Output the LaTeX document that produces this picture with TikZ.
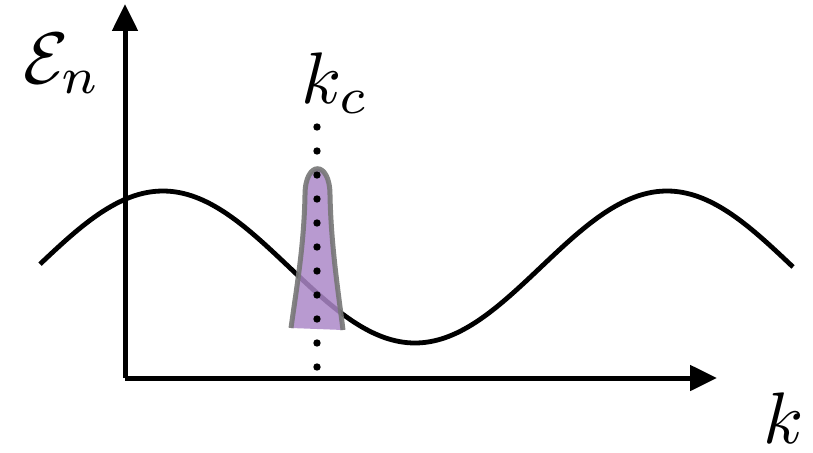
\documentclass[tikz,border=0pt]{standalone}
\usetikzlibrary{arrows.meta}
\definecolor{blobfill}{RGB}{172,136,200}
\definecolor{blobline}{RGB}{118,118,118}
\tikzset{
  axis/.style={line width=5pt,-{Triangle[length=27pt,width=25pt]}},
  curve/.style={line width=4.8pt},
  lbl/.style={inner sep=0pt,anchor=base west,scale=7.3},
  dotmark/.style={fill=black,draw=none},
}
\begin{document}
\begin{tikzpicture}[x=1pt,y=-1pt]
\useasboundingbox (0,0) rectangle (813,452);
\coordinate (O) at (125,378);
\coordinate (ytip) at (125,4);
\coordinate (xtip) at (717,378);
% curve
\draw[curve] plot[domain=40:793,samples=200,smooth] (\x,{267-76*cos((\x-163)/504*360)});
% blob
\fill[blobfill,opacity=0.85] (291,328) .. controls (297,285) and (304,245) .. (305,195)
  .. controls (305,160) and (330,160) .. (330,195)
  .. controls (331,245) and (338,290) .. (343,330) -- cycle;
\draw[blobline,line width=5pt,opacity=0.9] (291,328) .. controls (297,285) and (304,245) .. (305,195)
  .. controls (305,160) and (330,160) .. (330,195)
  .. controls (331,245) and (338,290) .. (343,330);
% dots
\foreach \i in {0,...,10} {
  \fill[dotmark] (317,127+24*\i) circle (3.7);
}
% axes
\draw[axis] (O) -- (ytip);
\draw[axis] (O) -- (xtip);
% labels
\node[lbl] (En) at (22,83) {$\mathcal{E}_n$};
\node[lbl] (kc) at (300,103) {$k_c$};
\node[lbl] (k) at (762,443) {$k$};
\end{tikzpicture}
\end{document}
